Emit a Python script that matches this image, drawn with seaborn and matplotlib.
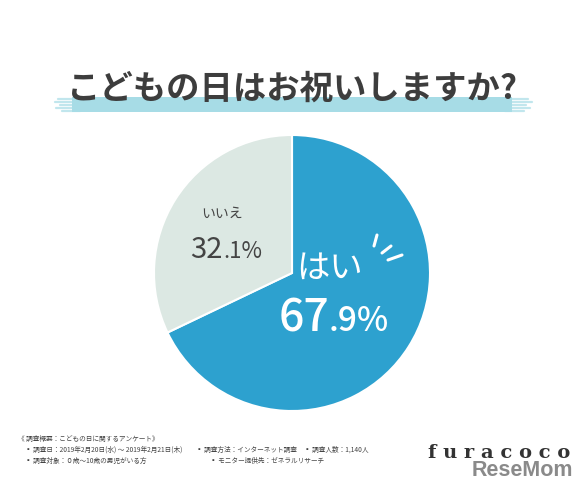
import matplotlib
matplotlib.use("Agg")
import matplotlib.pyplot as plt
import seaborn as sns
from matplotlib.patches import Rectangle

# survey result
labels = ["はい", "いいえ"]
shares = [67.9, 32.1]
colors = ["#2da1cf", "#dce8e3"]

title = "こどもの日はお祝いしますか?"
notes = [
    ("《 調査概要：こどもの日に関するアンケート》", 18, 439),
    ("▪ 調査日：2019年2月20日(水) ～ 2019年2月21日(木)", 25, 450),
    ("▪ 調査方法：インターネット調査", 196, 450),
    ("▪ 調査人数：1,140人", 304, 450),
    ("▪ 調査対象：０歳〜10歳の男児がいる方", 25, 461),
    ("▪ モニター提供先：ゼネラルリサーチ", 210, 461),
]

W, H = 585, 492


def Y(py):
    # pixel row -> data y
    return H - py


sns.set_theme(style="white")
plt.rcParams["font.family"] = ["Noto Sans CJK JP", "DejaVu Sans"]

fig = plt.figure(figsize=(W / 100, H / 100), dpi=100)
ax = fig.add_axes([0, 0, 1, 1])

# title with highlighter band
ax.add_patch(Rectangle((72, Y(112)), 440, 15, color="#a7dce6", lw=0, zorder=1))
for i, (x0, x1) in enumerate([(58, 80), (55, 80), (60, 80), (56, 80), (62, 80)]):
    yy = Y(99 + i * 3)
    ax.plot([x0, x1], [yy, yy], color="#a7dce6", lw=1.6, alpha=0.7, zorder=1)
for i, (x0, x1) in enumerate([(505, 528), (505, 532), (505, 526), (505, 530), (505, 524)]):
    yy = Y(99 + i * 3)
    ax.plot([x0, x1], [yy, yy], color="#a7dce6", lw=1.6, alpha=0.7, zorder=1)
ax.text(292, Y(89), title, ha="center", va="center", fontsize=24,
        fontweight="bold", color="#3d3d3d", zorder=3)

# pie
ax.pie(shares, colors=colors, startangle=90, counterclock=False,
       center=(292, Y(273)), radius=138, frame=True,
       wedgeprops=dict(edgecolor="white", linewidth=1.5))
ax.set_xlim(0, W)
ax.set_ylim(0, H)
ax.set_aspect("equal")
ax.axis("off")

# labels
ax.text(222, Y(214), labels[1], ha="center", va="center", fontsize=10, color="#444444")
ax.text(223, Y(258), f"{shares[1]:.1f}".split(".")[0], ha="right", va="baseline",
        fontsize=21, color="#444444")
ax.text(223, Y(258), "." + f"{shares[1]:.1f}".split(".")[1] + "%", ha="left",
        va="baseline", fontsize=16, color="#444444")

ax.text(330, Y(268), labels[0], ha="center", va="center", fontsize=24,
        color="white")
ax.text(329, Y(331), f"{shares[0]:.1f}".split(".")[0], ha="right", va="baseline",
        fontsize=32, color="white", fontweight="medium")
ax.text(329, Y(331), "." + f"{shares[0]:.1f}".split(".")[1] + "%", ha="left",
        va="baseline", fontsize=24, color="white", fontweight="medium")
for (x0, y0), (x1, y1) in [((377, 235), (374, 246)), ((382, 253), (391, 246)),
                           ((388, 260), (402, 255))]:
    ax.plot([x0, x1], [Y(y0), Y(y1)], color="white", lw=2.2, solid_capstyle="round")

# footer
for txt, x, y in notes:
    ax.text(x, Y(y), txt, ha="left", va="center", fontsize=4.8, color="#444444")

ax.text(499, Y(453), "f u r a c o c o", ha="center", va="center", fontsize=14,
        family="DejaVu Serif", fontweight="bold", color="#333333")
ax.text(522, Y(471), "ReseMom", ha="center", va="center", fontsize=15.5,
        family="Liberation Sans", fontweight="bold", color="#8a8a8a")

fig.savefig("out.png", dpi=100)
